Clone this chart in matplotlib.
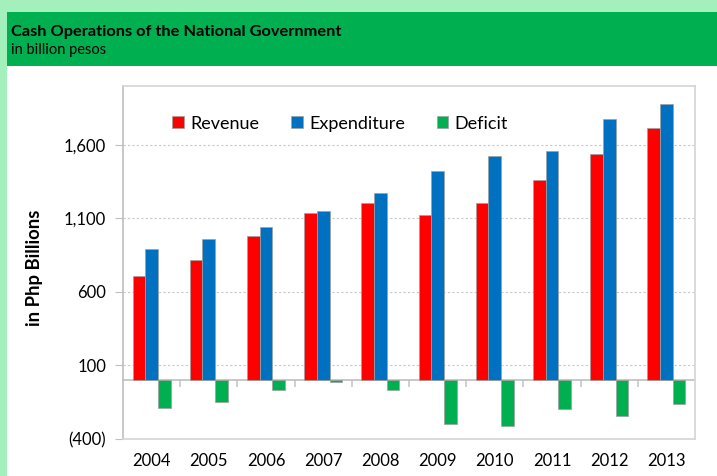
import matplotlib
matplotlib.use("Agg")
import matplotlib.pyplot as plt
import numpy as np
from matplotlib.patches import Rectangle

plt.rcParams['font.family'] = ['Lato', 'DejaVu Sans']

# cash operations, billion pesos
years = ['2004', '2005', '2006', '2007', '2008', '2009', '2010', '2011', '2012', '2013']
revenue = [706.7, 816.2, 979.6, 1136.6, 1202.9, 1123.2, 1207.9, 1359.9, 1534.9, 1716.1]
expenditure = [893.8, 962.9, 1044.4, 1149.0, 1271.0, 1421.7, 1522.4, 1557.7, 1777.8, 1880.2]
deficit = [-187.1, -146.8, -64.8, -12.4, -68.1, -298.5, -314.5, -197.8, -242.8, -164.1]

y_ticks = [-400, 100, 600, 1100, 1600]
y_tick_labels = ['(400)', '100', '600', '1,100', '1,600']

W, H = 717, 476
fig = plt.figure(figsize=(W / 100, H / 100), dpi=100, facecolor='#a3f0bd')

# white panel and green header band
fig.patches.append(Rectangle((7 / W, 0), 1, 1 - 66 / H, transform=fig.transFigure,
                             facecolor='white', edgecolor='none', zorder=-2))
fig.patches.append(Rectangle((7 / W, 1 - 66 / H), 1, 54 / H, transform=fig.transFigure,
                             facecolor='#00b050', edgecolor='none', zorder=-1))
fig.text(11 / W, 1 - 36 / H, 'Cash Operations of the National Government',
         fontsize=11.8, fontweight='bold', color='black', va='baseline')
fig.text(11 / W, 1 - 54 / H, 'in billion pesos', fontsize=10.5, color='black', va='baseline')

ax = fig.add_axes([123 / W, 37 / H, 572 / W, 353 / H])
ax.set_zorder(2)
ax.set_facecolor('white')

x = np.arange(len(years))
w = 0.222
ax.bar(x - w, revenue, w, color='#ff0000', edgecolor='#a0a0a0', linewidth=0.5, label='Revenue', zorder=3)
ax.bar(x, expenditure, w, color='#0070c0', edgecolor='#a0a0a0', linewidth=0.5, label='Expenditure', zorder=3)
ax.bar(x + w, deficit, w, color='#00b050', edgecolor='#a0a0a0', linewidth=0.5, label='Deficit', zorder=3)

ax.set_xlim(-0.5, len(years) - 0.5)
ax.set_ylim(-400, 2000)
ax.set_yticks(y_ticks)
ax.set_yticklabels(y_tick_labels)
ax.set_xticks(x)
ax.set_xticklabels(years)
ax.tick_params(axis='x', length=0, pad=10, labelsize=12)
ax.tick_params(axis='y', length=6, color='#bfbfbf', pad=6, labelsize=12)

for v in y_ticks[1:]:
    ax.axhline(v, color='#c8c8c8', linestyle=(0, (2, 2)), linewidth=0.8, zorder=1)

for s in ax.spines.values():
    s.set_color('#d4d4d4')
    s.set_linewidth(1.2)
ax.spines['left'].set_color('#bfbfbf')

# category axis drawn along zero
zax = ax.secondary_xaxis(0, transform=ax.transData)
zax.set_xticks(x[:-1] + 0.5)
zax.set_xticklabels([])
zax.tick_params(length=5, color='#c8c8c8', width=1.2)
zax.spines['bottom'].set_color('#bfbfbf')
zax.spines['bottom'].set_linewidth(1.2)

ax.set_ylabel('in Php Billions', fontsize=13.3, fontweight='bold')
ax.yaxis.set_label_coords(-0.139, 0.485)

ax.legend(loc='upper left', bbox_to_anchor=(0.058, 0.962), ncol=3, frameon=False,
          fontsize=13, handlelength=0.65, handleheight=0.65, handletextpad=0.35,
          columnspacing=1.75)

fig.savefig('out.png', dpi=100, facecolor=fig.get_facecolor())
